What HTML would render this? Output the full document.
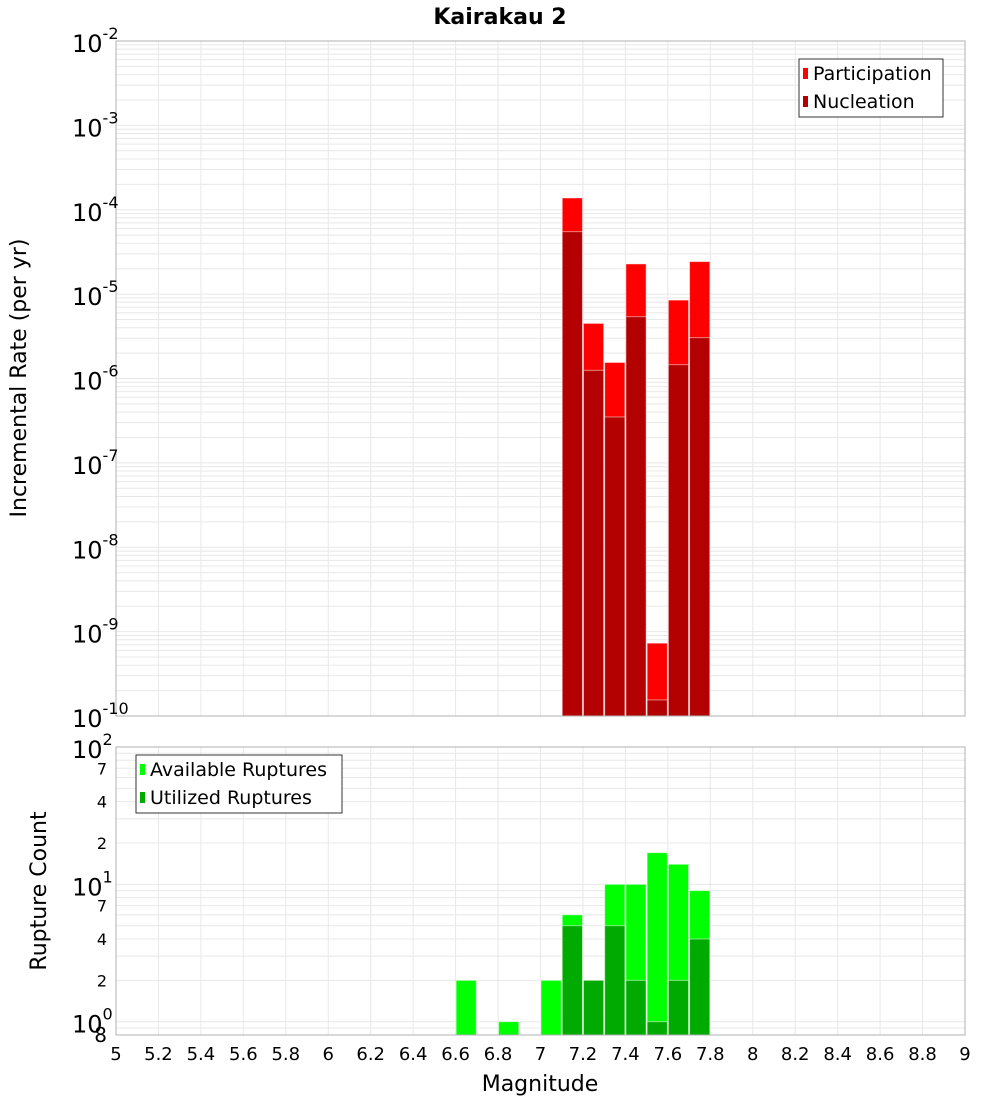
<!DOCTYPE html>
<html><head><meta charset="utf-8"><style>
html,body{margin:0;padding:0;background:#fff;}
svg text{font-family:"DejaVu Sans","Liberation Sans",sans-serif;}
</style></head><body>
<svg id="chart" width="1000" height="1100" xmlns="http://www.w3.org/2000/svg">
<text x="500" y="24" text-anchor="middle" font-size="22" font-weight="bold">Kairakau 2</text>
<g id="topPlot"></g>
<g id="botPlot"></g>
<text x="540" y="1091" text-anchor="middle" font-size="22">Magnitude</text>
<text transform="translate(26,378) rotate(-90)" text-anchor="middle" font-size="22">Incremental Rate (per yr)</text>
<text transform="translate(46,891) rotate(-90)" text-anchor="middle" font-size="22">Rupture Count</text>
</svg>
<script>
const mags = [6.65, 6.85, 7.05, 7.15, 7.25, 7.35, 7.45, 7.55, 7.65, 7.75];
const participation = [0, 0, 0, 1.38e-4, 4.5e-6, 1.55e-6, 2.28e-5, 7.3e-10, 8.5e-6, 2.43e-5];
const nucleation = [0, 0, 0, 5.5e-5, 1.25e-6, 3.5e-7, 5.4e-6, 1.55e-10, 1.46e-6, 3.05e-6];
const available = [2, 1, 2, 6, 2, 10, 10, 17, 14, 9];
const utilized = [0, 0, 0, 5, 2, 5, 2, 1, 2, 4];
const xTicks = [5,5.2,5.4,5.6,5.8,6,6.2,6.4,6.6,6.8,7,7.2,7.4,7.6,7.8,8,8.2,8.4,8.6,8.8,9];
const xTickLabels = ["5","5.2","5.4","5.6","5.8","6","6.2","6.4","6.6","6.8","7","7.2","7.4","7.6","7.8","8","8.2","8.4","8.6","8.8","9"];
const topDecades = [-2,-3,-4,-5,-6,-7,-8,-9,-10];
const botMinorLabels = [[70,"7"],[40,"4"],[20,"2"],[7,"7"],[4,"4"],[2,"2"]];

const NS="http://www.w3.org/2000/svg";
const X0=116,X1=965;
const xs = m => X0 + (m-5)/4*(X1-X0);
const T0=41,T1=716, tMax=-2,tMin=-10;
const yTop = v => T0 + (tMax-Math.log10(v))/(tMax-tMin)*(T1-T0);
const B0=747,B1=1035, bMax=2, bMin=Math.log10(0.8);
const yBot = v => B0 + (bMax-Math.log10(v))/(bMax-bMin)*(B1-B0);
function el(p,tag,a,txt){const e=document.createElementNS(NS,tag);for(const k in a)e.setAttribute(k,a[k]);if(txt!==undefined)e.textContent=txt;p.appendChild(e);return e;}

function frame(g,y0,y1,yf,minVals){
  const gl=el(g,'g',{});
  
  
  minVals.forEach(v=>{const y=yf(v); if(y>=y0&&y<=y1) el(gl,'line',{x1:X0,x2:X1,y1:y,y2:y,stroke:'#e8e8e8','stroke-width':1});});
  xTicks.forEach(t=>{const x=xs(t); el(gl,'line',{x1:x,x2:x,y1:y0,y2:y1,stroke:'#e8e8e8','stroke-width':1});});
}
function bar(g,m,v,yf,y1,color,name){
  if(!v) return;
  const w=(X1-X0)/40;
  const r=el(g,'rect',{x:xs(m)-w/2+0.5,y:yf(v),width:w-1,height:y1-yf(v),fill:color,stroke:'rgba(255,255,255,0.5)','stroke-width':1});
  
  
}

// TOP
const topG=document.getElementById('topPlot');
let tmin=[];for(let d=-10;d<-2;d++)for(let k=1;k<10;k++)tmin.push(k*Math.pow(10,d));tmin.push(1e-2);
frame(topG,T0,T1,yTop,tmin);
mags.forEach((m,i)=>bar(topG,m,participation[i],yTop,T1,'#ff0000','participation-bar'));
mags.forEach((m,i)=>bar(topG,m,nucleation[i],yTop,T1,'#b30000','nucleation-bar'));
el(topG,'rect',{x:X0,y:T0,width:X1-X0,height:T1-T0,fill:'none',stroke:'#b0b0b0'});
topDecades.forEach(d=>{
  const y=yTop(Math.pow(10,d));
  const t=el(topG,'text',{x:72,y:y+11,'font-size':24});
  
  
  t.textContent='10';
  el(t,'tspan',{dy:-13,'font-size':16},String(d));
});
const lg=el(topG,'g',{});


el(lg,'rect',{x:799,y:59,width:144,height:58,fill:'#fff',stroke:'#333'});
el(lg,'rect',{x:803,y:68,width:5,height:11,fill:'#ff0000'});
el(lg,'text',{x:813,y:80,'font-size':19},'Participation');
el(lg,'rect',{x:803,y:96,width:5,height:11,fill:'#b30000'});
el(lg,'text',{x:813,y:108,'font-size':19},'Nucleation');

// BOTTOM
const botG=document.getElementById('botPlot');
let bmin=[0.8,0.9];for(let d=0;d<2;d++)for(let k=1;k<10;k++)bmin.push(k*Math.pow(10,d));bmin.push(100);
frame(botG,B0,B1,yBot,bmin);
mags.forEach((m,i)=>bar(botG,m,available[i],yBot,B1,'#00ff00','available-bar'));
mags.forEach((m,i)=>bar(botG,m,utilized[i],yBot,B1,'#00aa00','utilized-bar'));
el(botG,'rect',{x:X0,y:B0,width:X1-X0,height:B1-B0,fill:'none',stroke:'#b0b0b0'});
[[100,"2"],[10,"1"],[1,"0"]].forEach(([v,e])=>{
  const y=yBot(v);
  const t=el(botG,'text',{x:72,y:y+11,'font-size':24});
  
  
  t.textContent='10';
  el(t,'tspan',{dy:-13,'font-size':16},e);
});
botMinorLabels.forEach(([v,s])=>{
  const t=el(botG,'text',{x:107,y:yBot(v)+6,'font-size':16,'text-anchor':'end'},s);
  
  
});
const e8=el(botG,'text',{x:107,y:1042,'font-size':20,'text-anchor':'end'},'8');


const lg2=el(botG,'g',{});


el(lg2,'rect',{x:136,y:755,width:206,height:58,fill:'#fff',stroke:'#333'});
el(lg2,'rect',{x:140,y:764,width:5,height:11,fill:'#00ff00'});
el(lg2,'text',{x:150,y:776,'font-size':19},'Available Ruptures');
el(lg2,'rect',{x:140,y:792,width:5,height:11,fill:'#00aa00'});
el(lg2,'text',{x:150,y:804,'font-size':19},'Utilized Ruptures');
xTicks.forEach((t,i)=>{
  const tx=el(botG,'text',{x:xs(t),y:1060,'font-size':18,'text-anchor':'middle'},xTickLabels[i]);
  
  
});
</script>
</body></html>
